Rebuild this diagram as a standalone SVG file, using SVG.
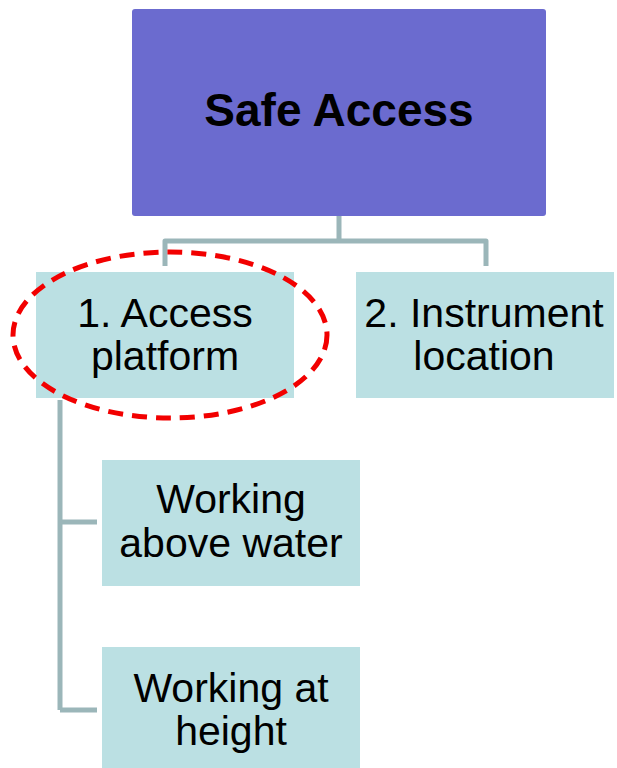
<svg xmlns="http://www.w3.org/2000/svg" width="617" height="768" viewBox="0 0 617 768">
<style>
.box{fill:#BBE0E3;}
.lbl{font-family:"Liberation Sans",Arial,sans-serif;font-size:41px;fill:#000;text-anchor:middle;}
.conn{fill:none;stroke:#9BB6B9;stroke-width:5;stroke-linejoin:round;}
</style>
<rect width="617" height="768" fill="#fff"/>
<g id="connectors">
<path class="conn" d="M339 216 V241 M165 266 V241 H486 V266"/>
<path class="conn" d="M60 400 V710 M60 522 H97 M60 710 H97"/>
</g>
<g id="root">
<rect x="132" y="9" width="414" height="207" rx="3" fill="#6B6BCF"/>
<text x="339" y="126" font-family="Liberation Sans,Arial,sans-serif" font-size="46" font-weight="bold" text-anchor="middle">Safe Access</text>
</g>
<g id="access-platform">
<rect class="box" x="36" y="272" width="258" height="126"/>
<text class="lbl" x="165" y="327">1. Access</text>
<text class="lbl" x="165" y="370">platform</text>
</g>
<g id="instrument-location">
<rect class="box" x="356" y="272" width="258" height="126"/>
<text class="lbl" x="484" y="327">2. Instrument</text>
<text class="lbl" x="484" y="370">location</text>
</g>
<g id="working-above-water">
<rect class="box" x="102" y="460" width="258" height="126"/>
<text class="lbl" x="231" y="513">Working</text>
<text class="lbl" x="231" y="557">above water</text>
</g>
<g id="working-at-height">
<rect class="box" x="102" y="647" width="258" height="126"/>
<text class="lbl" x="231" y="702">Working at</text>
<text class="lbl" x="231" y="745">height</text>
</g>
<g id="highlight">
<ellipse cx="170" cy="335" rx="157" ry="83" fill="none" stroke="#F20000" stroke-width="5" stroke-dasharray="15 9"/>
</g>
</svg>
